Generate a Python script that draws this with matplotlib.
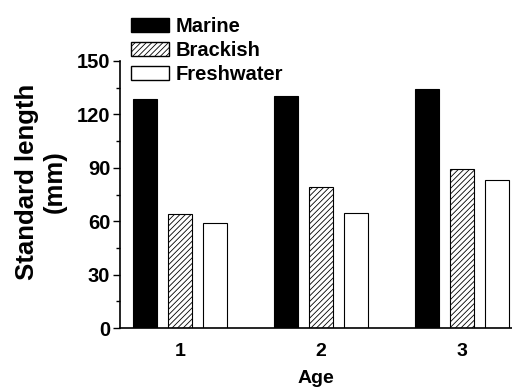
import numpy as np
import matplotlib
matplotlib.use("Agg")
import matplotlib.pyplot as plt
from matplotlib.patches import Patch

plt.rcParams["font.family"] = ["Liberation Sans", "DejaVu Sans"]
plt.rcParams["font.weight"] = "bold"
plt.rcParams["hatch.linewidth"] = 0.6
plt.rcParams["hatch.color"] = "#444444"

ages = ["1", "2", "3"]
marine = [128.5, 130.5, 134.3]
brackish = [64.0, 79.2, 89.1]
freshwater = [58.8, 64.8, 82.9]

x = np.arange(1, len(ages) + 1)
width = 0.17
offset = 0.25

fig = plt.figure(figsize=(5.12, 3.88), dpi=100)
ax = fig.add_axes([120 / 512, 1 - 328 / 388, 392 / 512, (328 - 61) / 388])

ax.bar(x - offset, marine, width, color="black", edgecolor="black", linewidth=0.8, label="Marine")
ax.bar(x, brackish, width, color="white", edgecolor="black", linewidth=0.8, hatch="//////", label="Brackish")
ax.bar(x + offset, freshwater, width, color="white", edgecolor="black", linewidth=0.8, label="Freshwater")

ax.set_xlim(0.574, 3.355)
ax.set_ylim(0, 150)
ax.set_yticks([0, 30, 60, 90, 120, 150])
ax.set_yticks(np.arange(15, 150, 30), minor=True)
ax.set_xticks(x)
ax.set_xticklabels(ages)
ax.tick_params(axis="x", length=0, labelsize=14, pad=11)
ax.tick_params(axis="y", which="major", length=5, width=1, labelsize=14.5, pad=2)
ax.tick_params(axis="y", which="minor", length=3, width=1)

for side in ["top", "right"]:
    ax.spines[side].set_visible(False)
for side in ["left", "bottom"]:
    ax.spines[side].set_linewidth(1.2)

ax.set_xlabel("Age", fontsize=14, fontweight="bold", labelpad=7)
fig.text(41 / 512, 1 - 182 / 388, "Standard length\n(mm)", rotation=90,
         ha="center", va="center", fontsize=18.5, fontweight="bold", linespacing=1.2)

handles = [
    Patch(facecolor="black", edgecolor="black", label="Marine"),
    Patch(facecolor="white", edgecolor="black", hatch="//////", label="Brackish"),
    Patch(facecolor="white", edgecolor="black", label="Freshwater"),
]
fig.legend(handles=handles, loc="upper left", bbox_to_anchor=(131 / 512, 1 - 17 / 388),
           frameon=False, fontsize=14.5, handlelength=1.9, handleheight=0.68,
           handletextpad=0.33, labelspacing=0.24, borderaxespad=0, borderpad=0)

fig.savefig("out.png", dpi=100)
